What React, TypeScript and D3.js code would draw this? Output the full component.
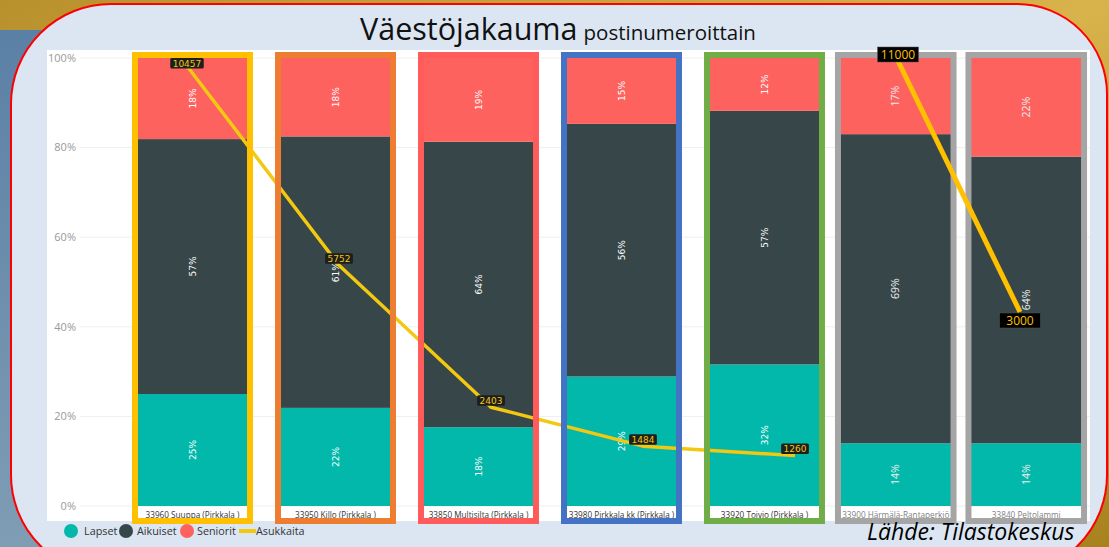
import React from "react"
import * as d3 from "d3"

// Data
const categories = [
  "33960 Suuppa (Pirkkala )",
  "33950 Killo (Pirkkala )",
  "33850 Multisilta (Pirkkala )",
  "33980 Pirkkala kk (Pirkkala )",
  "33920 Toivio (Pirkkala )"
]
const lapset = [25, 21.9, 17.6, 28.9, 31.6]
const aikuiset = [56.9, 60.6, 63.7, 56.4, 56.6]
const seniorit = [18.1, 17.5, 18.7, 14.7, 11.8]
const asukkaita = [10457, 5752, 2403, 1484, 1260]

// the two grey boxes were pasted in next to the Power BI chart
const extraCategories = ["33900 Härmälä-Rantaperkiö", "33840 Peltolammi"]
const extraLapset = [14, 14]
const extraAikuiset = [69, 64]
const extraSeniorit = [17, 22]
const extraAsukkaita = [11000, 3000]

const yTicks = [0, 20, 40, 60, 80, 100]
const keys = ["Lapset", "Aikuiset", "Seniorit"]
const segColors = { Lapset: "#01B8AA", Aikuiset: "#374649", Seniorit: "#FD625E" }
const borderColors = ["#FFC000", "#ED7D31", "#FF5B5B", "#4472C4", "#70AD47"]
const extraBorderColor = "#A5A5A5"
const lineColor = "#F2C811"
const extraLineColor = "#FFC000"

const W = 1109
const H = 547

function panelPath(l, t, r, b, tl, tr, br, bl) {
  return `M${l + tl},${t} H${r - tr} A${tr},${tr} 0 0 1 ${r},${t + tr} V${b - br} A${br},${br} 0 0 1 ${r - br},${b} H${l + bl} A${bl},${bl} 0 0 1 ${l},${b - bl} V${t + tl} A${tl},${tl} 0 0 1 ${l + tl},${t} Z`
}

export default function App() {
  // Scales
  const yPct = d3.scaleLinear().domain([0, 100]).range([506, 58])
  const xMain = d3
    .scaleBand()
    .domain(categories)
    .range([121, 836])
    .paddingInner(0.224)
    .paddingOuter(0.112)
  const xExtra = d3
    .scaleBand()
    .domain(extraCategories)
    .range([830.5, 1091.5])
    .paddingInner(0.145)
    .paddingOuter(0.0725)
  const xLine = d3.scalePoint().domain(categories).range([187, 795])
  const yLine = d3.scaleLinear().domain([0, 11000]).range([509, 43])
  const xExtraLine = d3.scalePoint().domain(extraCategories).range([898, 1020])
  const yExtraLine = d3.scaleLinear().domain([3000, 11000]).range([312, 61])

  const rows = categories.map((c, i) => ({
    cat: c,
    Lapset: lapset[i],
    Aikuiset: aikuiset[i],
    Seniorit: seniorit[i]
  }))
  const extraRows = extraCategories.map((c, i) => ({
    cat: c,
    Lapset: extraLapset[i],
    Aikuiset: extraAikuiset[i],
    Seniorit: extraSeniorit[i]
  }))
  const stack = d3.stack().keys(keys)
  const series = stack(rows)
  const extraSeries = stack(extraRows)

  const mainLine = d3
    .line()
    .x((d, i) => xLine(categories[i]))
    .y(d => yLine(d))
  const extraLine = d3
    .line()
    .x((d, i) => xExtraLine(extraCategories[i]))
    .y(d => yExtraLine(d))

  const bars = (ser, x, extra) =>
    ser.map(s => (
      <g key={s.key}>
        {s.map(d => (
          <rect
            key={d.data.cat}
            x={x(d.data.cat)}
            y={yPct(d[1])}
            width={x.bandwidth()}
            height={yPct(d[0]) - yPct(d[1])}
            fill={segColors[s.key]}
          />
        ))}
        {s.map(d => {
          const cx = x(d.data.cat) + x.bandwidth() / 2
          const cy = (yPct(d[0]) + yPct(d[1])) / 2
          return (
            <text
              key={d.data.cat + "-lbl"}
              transform={`translate(${cx},${cy}) rotate(-90)`}
              textAnchor="middle"
              dy="0.35em"
              fontSize={extra ? 10.5 : 9}
              fontFamily={extra ? "Open Sans" : "DejaVu Sans"}
              fill={extra ? "#eeeeee" : "#ffffff"}
            >
              {Math.round(d[1] - d[0])}%
            </text>
          )
        })}
      </g>
    ))

  const catLabels = (cats, x, extra) =>
    cats.map((c, i) => (
      <g key={c}>
        <clipPath id={`clip-${extra ? "e" : "m"}-${i}`}>
          <rect x={x(c)} y={507} width={x.bandwidth()} height={15} />
        </clipPath>
        <text
          x={x(c) + x.bandwidth() / 2}
          y={518}
          textAnchor="middle"
          fontSize={8.2}
          fontFamily="Open Sans"
          fill={extra ? "#808080" : "#333333"}
          clipPath={`url(#clip-${extra ? "e" : "m"}-${i})`}
        >
          {c}
        </text>
      </g>
    ))

  return (
    <svg width={W} height={H} style={{ position: "absolute", left: 0, top: 0 }}>
      <defs>
        <linearGradient id="blueBg" x1="0" y1="0" x2="0" y2="1">
          <stop offset="0" stopColor="#5b80a6" />
          <stop offset="1" stopColor="#7f9db4" />
        </linearGradient>
        <linearGradient id="goldBg" x1="0" y1="0" x2="1" y2="1">
          <stop offset="0" stopColor="#b8912c" />
          <stop offset="0.5" stopColor="#d8b24a" />
          <stop offset="1" stopColor="#a8821f" />
        </linearGradient>
      </defs>

      {/* slide background */}
      <rect x={0} y={0} width={W} height={H} fill="url(#goldBg)" />
      <rect x={0} y={30} width={70} height={H - 30} fill="url(#blueBg)" />
      <path
        d={panelPath(11, 4, 1107, 575, 100, 90, 100, 100)}
        fill="#DCE6F2"
        stroke="#FF0000"
        strokeWidth={2}
      />

      {/* title */}
      <text x={360} y={40} fontFamily="Open Sans" fontSize={30.5} fill="#111">
        Väestöjakauma
        <tspan fontSize={20.5} dx={6}>
          postinumeroittain
        </tspan>
      </text>

      {/* plot area */}
      <rect x={47} y={50} width={1043} height={471} fill="#ffffff" />
      {yTicks.map(t => (
        <g key={t}>
          <line x1={80} x2={1090} y1={yPct(t)} y2={yPct(t)} stroke="#efefef" strokeWidth={1} />
          <text
            x={76}
            y={yPct(t)}
            dy="0.35em"
            textAnchor="end"
            fontSize={11}
            fontFamily="Open Sans"
            fill="#999999"
          >
            {t}%
          </text>
        </g>
      ))}

      {bars(series, xMain, false)}
      {bars(extraSeries, xExtra, true)}
      {catLabels(categories, xMain, false)}
      {catLabels(extraCategories, xExtra, true)}

      {/* main line (under the pasted frames) */}
      <path
        d={mainLine(asukkaita)}
        fill="none"
        stroke={lineColor}
        strokeWidth={3.5}
        strokeLinejoin="round"
      />

      {/* coloured frames */}
      {categories.map((c, i) => (
        <rect
          key={c + "-frame"}
          x={xMain(c) - 2}
          y={55}
          width={xMain.bandwidth() + 4}
          height={466}
          fill="none"
          stroke={borderColors[i]}
          strokeWidth={6}
        />
      ))}
      {extraCategories.map(c => (
        <rect
          key={c + "-frame"}
          x={xExtra(c) - 2}
          y={55}
          width={xExtra.bandwidth() + 4}
          height={466}
          fill="none"
          stroke={extraBorderColor}
          strokeWidth={6}
        />
      ))}

      {/* line labels */}
      {asukkaita.map((v, i) => {
        const px = xLine(categories[i])
        const py = yLine(v)
        const label = String(v)
        const bw = label.length * 5.7 + 5
        const top = Math.max(58, py - 12)
        return (
          <g key={"ll-" + i}>
            <rect x={px - bw / 2} y={top} width={bw} height={10.5} rx={1.5} fill="#1e1e1e" />
            <text
              x={px}
              y={top + 8.6}
              textAnchor="middle"
              fontSize={9}
              fontFamily="DejaVu Sans"
              fill={lineColor}
            >
              {label}
            </text>
          </g>
        )
      })}

      {/* pasted line for the grey boxes */}
      <path
        d={extraLine(extraAsukkaita)}
        fill="none"
        stroke={extraLineColor}
        strokeWidth={5}
      />
      {extraAsukkaita.map((v, i) => {
        const px = xExtraLine(extraCategories[i])
        const py = yExtraLine(v)
        const top = i === 0 ? py - 14 : py + 1
        return (
          <g key={"el-" + i}>
            <rect x={px - 20.5} y={top} width={41} height={15} fill="#000" stroke="#555" strokeWidth={0.5} />
            <text
              x={px}
              y={top + 11.5}
              textAnchor="middle"
              fontSize={12}
              fontFamily="Open Sans"
              fill={extraLineColor}
            >
              {v}
            </text>
          </g>
        )
      })}

      {/* legend */}
      <g fontFamily="Open Sans" fontSize={10.8} fill="#333">
        <circle cx={71} cy={531} r={7} fill={segColors.Lapset} />
        <text x={84} y={531} dy="0.35em">Lapset</text>
        <circle cx={126} cy={531} r={7} fill={segColors.Aikuiset} />
        <text x={137} y={531} dy="0.35em">Aikuiset</text>
        <circle cx={187} cy={531} r={7} fill={segColors.Seniorit} />
        <text x={197} y={531} dy="0.35em">Seniorit</text>
        <line x1={239} x2={256} y1={531} y2={531} stroke={lineColor} strokeWidth={4} />
        <text x={256} y={531} dy="0.35em">Asukkaita</text>
      </g>

      {/* source */}
      <text x={867} y={540} fontFamily="Open Sans" fontStyle="italic" fontSize={23} fill="#000">
        Lähde: Tilastokeskus
      </text>
    </svg>
  )
}
